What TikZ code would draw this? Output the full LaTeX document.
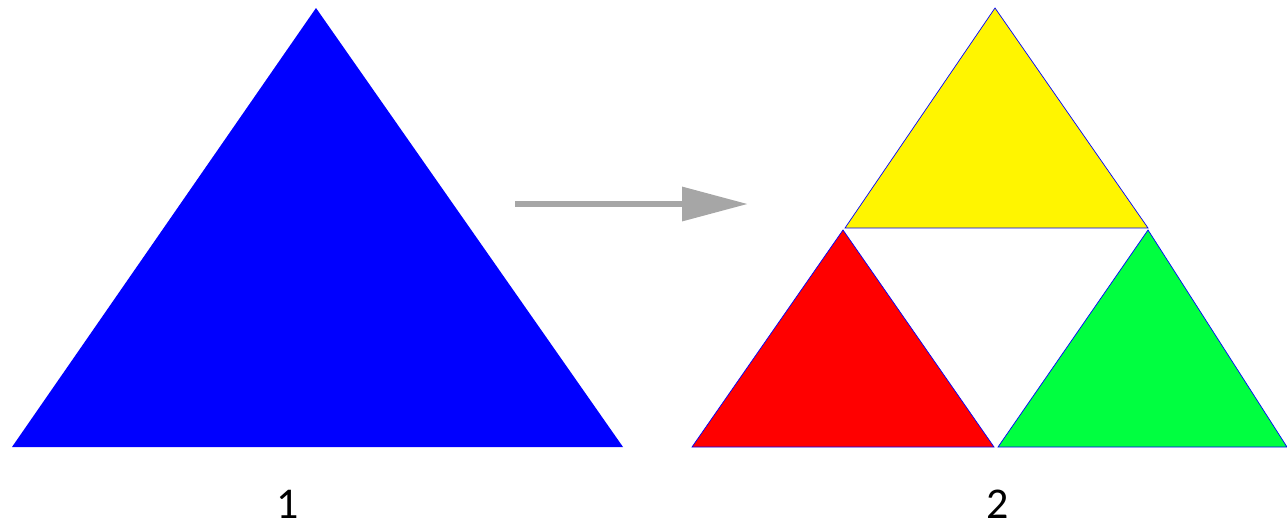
\documentclass[tikz,border=0pt]{standalone}
\usepackage{fontspec}
\setmainfont{Carlito}
\usetikzlibrary{arrows.meta,positioning}
\definecolor{Blue}{HTML}{0000FF}
\definecolor{Red}{HTML}{FF0000}
\definecolor{Yellow}{HTML}{FFF500}
\definecolor{Green}{HTML}{00FF40}
\definecolor{Grey}{HTML}{A6A6A6}
\begin{document}
\begin{tikzpicture}[x=0.02cm,y=-0.02cm]
  \useasboundingbox (0,0) rectangle (1287,531);
  % step 1
  \fill[Blue] (12,447) -- (316,8) -- (623,447) -- cycle;
  % step 2
  \fill[Yellow] (845,228) -- (995,8) -- (1148,228) -- cycle;
  \fill[Red] (692,447) -- (843,230) -- (994,447) -- cycle;
  \fill[Green] (998,447) -- (1148,230) -- (1287,447) -- cycle;
  \draw[Blue,thin] (845,228) -- (995,8) -- (1148,228) -- cycle;
  \draw[Blue,thin] (692,447) -- (843,230) -- (994,447) -- cycle;
  \draw[Blue,thin] (998,447) -- (1148,230) -- (1287,447) -- cycle;
  % arrow
  \coordinate (from) at (515,204);
  \coordinate (to) at (748,204);
  \draw[Grey,line width=0.13cm,-{Triangle[length=1.32cm,width=0.66cm]}] (from) -- (to);
  % labels
  \node[font=\fontsize{25}{30}\selectfont,anchor=base,inner sep=0pt] (one) at (288,518) {1};
  \node[font=\fontsize{25}{30}\selectfont,anchor=base,inner sep=0pt] (two) at (998,518) {2};
\end{tikzpicture}
\end{document}
